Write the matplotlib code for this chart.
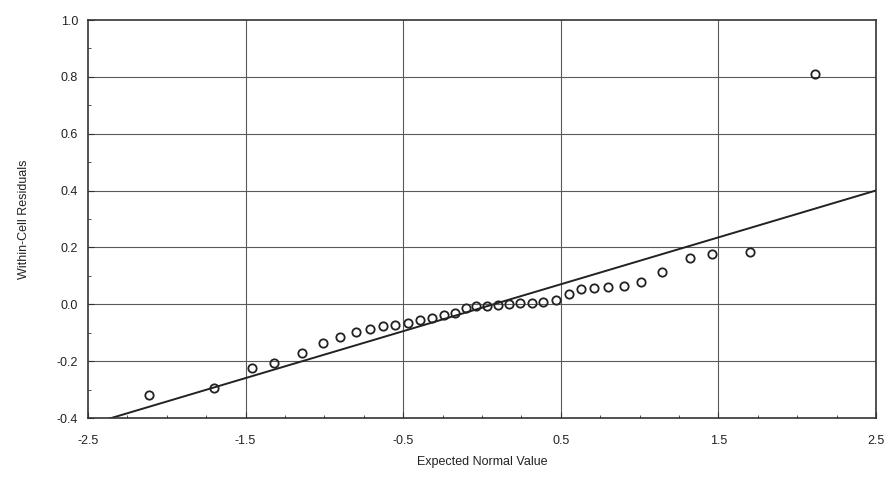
import numpy as np
import matplotlib
matplotlib.use("Agg")
from matplotlib import pyplot as plt
from matplotlib.ticker import MultipleLocator

plt.rcParams['font.family'] = ['Liberation Sans', 'DejaVu Sans']

# expected normal values (x) and sorted within-cell residuals (y)
expected = [-2.11, -1.70, -1.46, -1.32, -1.14, -1.01, -0.90, -0.80, -0.71,
            -0.63, -0.55, -0.47, -0.39, -0.32, -0.24, -0.17, -0.10, -0.035,
            0.035, 0.10, 0.17, 0.24, 0.32, 0.39, 0.47, 0.55, 0.63, 0.71,
            0.80, 0.90, 1.01, 1.14, 1.32, 1.46, 1.70, 2.11]
residuals = [-0.320, -0.296, -0.225, -0.208, -0.172, -0.137, -0.116, -0.099, -0.088,
             -0.078, -0.074, -0.067, -0.056, -0.048, -0.039, -0.032, -0.012, -0.006,
             -0.005, -0.004, 0.000, 0.003, 0.005, 0.007, 0.014, 0.036, 0.053, 0.056,
             0.060, 0.063, 0.077, 0.113, 0.162, 0.176, 0.183, 0.812]

# reference line of the normal plot
line_slope = 0.165
line_intercept = -0.012

fig = plt.figure(figsize=(8.88, 4.78), dpi=100)
ax = fig.add_axes([0.099, 0.1255, 0.8875, 0.8325])

# grid
for gx in [-1.5, -0.5, 0.5, 1.5]:
    ax.axvline(gx, color='#5a5a5a', lw=0.8, zorder=1)
for gy in [-0.2, 0.0, 0.2, 0.4, 0.6, 0.8]:
    ax.axhline(gy, color='#5a5a5a', lw=0.8, zorder=1)

lx = np.array([-2.5, 2.5])
ax.plot(lx, line_slope * lx + line_intercept, color='#222222', lw=1.4, zorder=2)

ax.plot(expected, residuals, linestyle='none', marker='o', ms=6,
        mfc='none', mec='#222222', mew=1.3, zorder=3)

ax.set_xlim(-2.5, 2.5)
ax.set_ylim(-0.4, 1.0)
ax.set_xticks([-2.5, -1.5, -0.5, 0.5, 1.5, 2.5])
ax.xaxis.set_minor_locator(MultipleLocator(0.25))
ax.yaxis.set_major_locator(MultipleLocator(0.2))
ax.yaxis.set_minor_locator(MultipleLocator(0.1))
ax.set_yticklabels(['%.1f' % v for v in ax.get_yticks()])
ax.set_xticklabels(['-2.5', '-1.5', '-0.5', '0.5', '1.5', '2.5'])

ax.tick_params(which='both', direction='in', colors='#333333', labelsize=9, labelcolor='#222222')
ax.tick_params(which='major', length=4)
ax.tick_params(which='minor', length=2.5)
ax.tick_params(axis='x', which='major', pad=12)
ax.tick_params(axis='y', which='major', pad=7)
for s in ax.spines.values():
    s.set_color('#333333')
    s.set_linewidth(1.2)

ax.set_xlabel('Expected Normal Value', fontsize=9, color='#222222', labelpad=7)
ax.set_ylabel('Within-Cell Residuals', fontsize=9, color='#222222', labelpad=19)

fig.savefig('out.png', dpi=100)
